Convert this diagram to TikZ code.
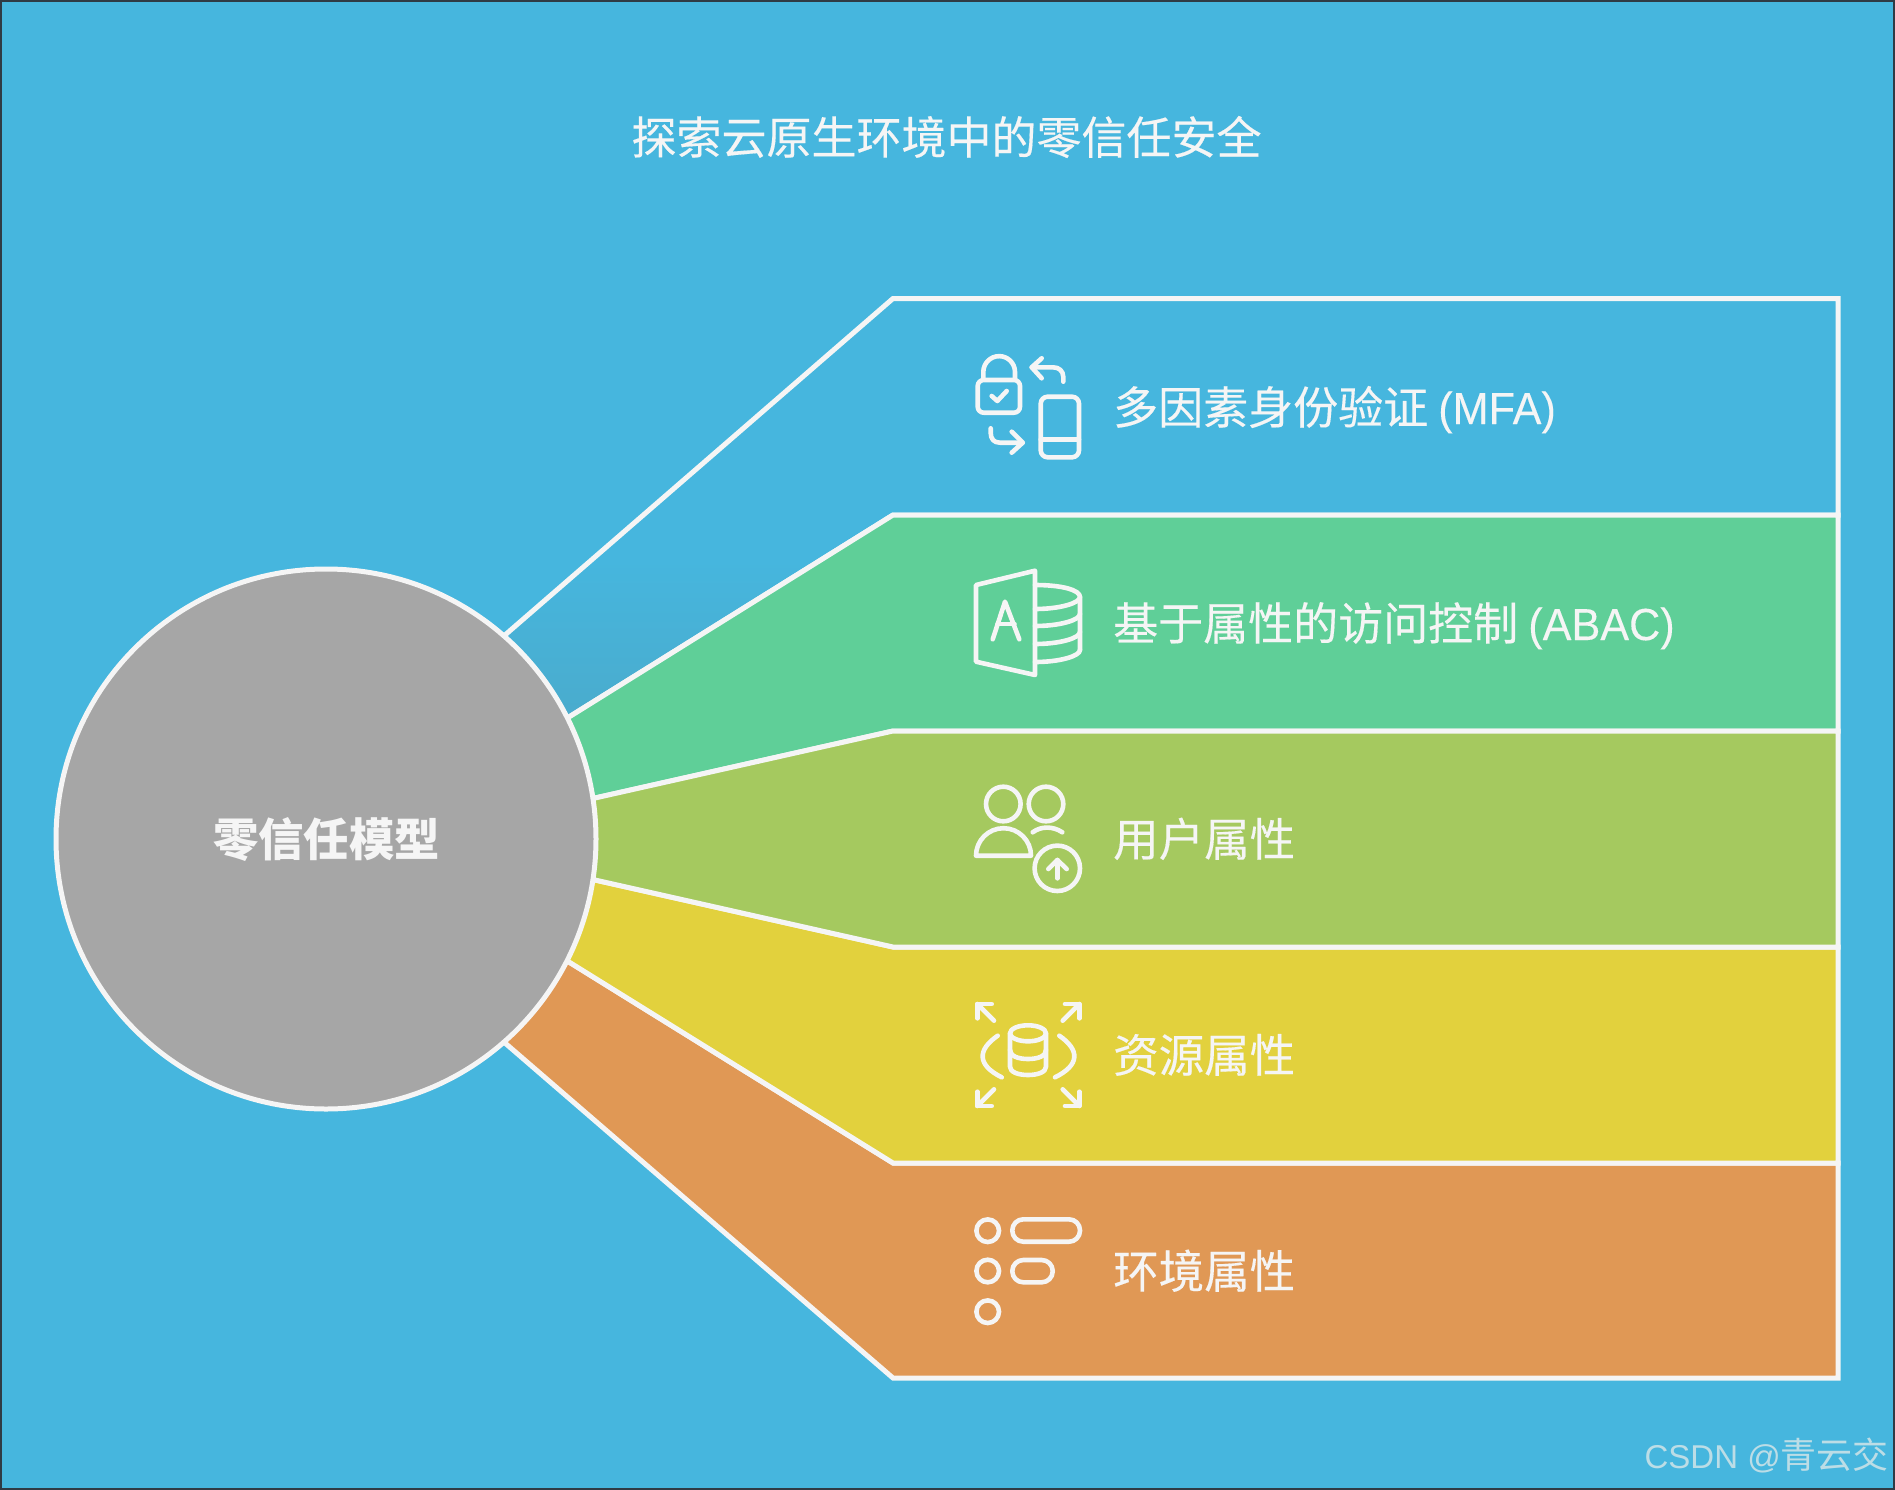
\documentclass[tikz,border=0pt]{standalone}
\usepackage{fontspec}
\setmainfont{Noto Sans CJK SC}
\newfontfamily\wmlat{Liberation Sans}
\newfontfamily\lblat[FakeStretch=0.96,FakeBold=0.2]{Liberation Sans}
\newfontfamily\cjkfont{Noto Sans CJK SC}
\newfontfamily\cjkheavy[FakeBold=0.3]{Noto Sans CJK SC}
\definecolor{bgblue}{HTML}{46B6DE}
\definecolor{bandblue}{HTML}{4AABCC}
\definecolor{bandgreen}{HTML}{5FCF98}
\definecolor{bandolive}{HTML}{A5C95F}
\definecolor{bandyellow}{HTML}{E2D13D}
\definecolor{bandorange}{HTML}{E09855}
\definecolor{hubgray}{HTML}{A6A6A6}
\definecolor{linewhite}{HTML}{F5F5F5}
\definecolor{frameink}{HTML}{2F3B45}
\definecolor{wmcolor}{HTML}{BCDDE6}
\tikzset{
  band/.style={draw=linewhite,line width=5pt,line join=miter},
  ico/.style={draw=linewhite,line width=4.6pt,line cap=round,line join=round},
  lbl/.style={anchor=west,text=linewhite,font=\cjkheavy\fontsize{45.5}{54}\selectfont,inner sep=0pt,text height=39.6pt,text depth=5.4pt},
  lblwide/.style={lbl,font=\cjkheavy\fontsize{45}{54}\selectfont},
}
\begin{document}
\begin{tikzpicture}[x=1pt,y=-1pt]
\useasboundingbox (0,0) rectangle (1895,1490);
\fill[bgblue] (0,0) rectangle (1895,1490);
\draw[frameink,line width=4pt] (0,0) rectangle (1895,1490);
\node[text=linewhite,font=\cjkheavy\fontsize{45}{54}\selectfont,inner sep=0pt] (title) at (946.5,137) {探索云原生环境中的零信任安全};
% bands
\begin{scope}
\clip (326,839) -- (505,635) -- (893,298.5) -- (1838,298.5) -- (1838,515) -- (893,515) -- (569,717) -- cycle;
\shade[top color=bgblue,bottom color=bandblue] (480,560) rectangle (900,725);
\end{scope}
\draw[band] (326,839) -- (505,635) -- (893,298.5) -- (1838,298.5) -- (1838,515) -- (893,515) -- (569,717) -- cycle;
\draw[band,fill=bandorange] (326,839) -- (505,1043) -- (893,1378) -- (1838,1378) -- (1838,1163) -- (893,1163) -- (569,962) -- cycle;
\draw[band,fill=bandgreen] (326,839) -- (569,717) -- (893,515) -- (1838,515) -- (1838,731) -- (893,731) -- (595,798) -- cycle;
\draw[band,fill=bandyellow] (326,839) -- (595,880) -- (893,947) -- (1838,947) -- (1838,1163) -- (893,1163) -- (569,962) -- cycle;
\draw[band,fill=bandolive] (326,839) -- (595,798) -- (893,731) -- (1838,731) -- (1838,947) -- (893,947) -- (595,880) -- cycle;
\node[circle,draw=linewhite,fill=hubgray,line width=5pt,minimum size=540pt,inner sep=0pt] (hub) at (326,839) {};
\node[text=linewhite,font=\fontsize{45.4}{54}\selectfont\bfseries,inner sep=0pt] (hubtext) at (326.5,840) {零信任模型};
% labels
\node[lblwide] (mfa) at (1113,407) {多因素身份验证 {\lblat (MFA)}};
\node[lblwide] (abac) at (1113,623) {基于属性的访问控制 {\lblat (ABAC)}};
\node[lbl] (user) at (1113,839) {用户属性};
\node[lbl] (res) at (1113,1055) {资源属性};
\node[lbl] (env) at (1113,1271) {环境属性};
% icon: lock and phone
\draw[ico,rounded corners=6pt] (977.7,380) rectangle (1020,412.7);
\draw[ico] (983.3,379) -- (983.3,372) arc[start angle=180,end angle=360,radius=15.85] -- (1015,379);
\draw[ico] (991.7,396) -- (997.3,401) -- (1006.7,391);
\draw[ico] (1063.3,381.7) -- (1063.3,377) .. controls (1063.3,371) and (1059,367.3) .. (1053,367.3) -- (1031.7,367.3);
\draw[ico] (1041.7,358.3) -- (1031.7,367.3) -- (1041.7,378.3);
\draw[ico,rounded corners=7pt] (1040.7,396.7) rectangle (1079,457.3);
\draw[ico] (1040.7,439.3) -- (1079,439.3);
\draw[ico] (990.7,428.3) -- (990.7,433) .. controls (990.7,439) and (994,442.7) .. (1000,442.7) -- (1022.7,442.7);
\draw[ico] (1011.7,431.7) -- (1022.7,442.7) -- (1011.7,452.7);
% icon: access database
\draw[ico] (976,585) -- (1035,570.7) -- (1035,675) -- (976,661.7) -- cycle;
\draw[ico] (992.7,639.3) -- (1005,601.7) -- (1019.3,639.3);
\draw[ico] (997.5,624) -- (1014.5,624);
\draw[ico] (1035,585) .. controls (1062,585) and (1080,590) .. (1080,597) -- (1080,650);
\draw[ico] (1080,597) .. controls (1080,603) and (1060,609) .. (1035,609);
\draw[ico] (1080,614) .. controls (1080,620) and (1060,626) .. (1035,626);
\draw[ico] (1080,632) .. controls (1080,638) and (1060,644) .. (1035,644);
\draw[ico] (1080,650) .. controls (1080,656) and (1060,662) .. (1035,662);
% icon: users with upload
\draw[ico] (1003.3,804) circle[radius=17.3];
\draw[ico] (1046,804) circle[radius=17.3];
\draw[ico] (976,855.7) arc[start angle=180,end angle=360,radius=27.5] -- cycle;
\draw[ico] (1032.7,832.3) .. controls (1041,826) and (1053,826) .. (1062.3,832.3);
\draw[ico] (1057.3,868.3) circle[radius=22.7];
\draw[ico] (1057.3,878.3) -- (1057.3,860);
\draw[ico] (1048.3,869) -- (1057.3,860) -- (1066.7,869);
% icon: resource database
\draw[ico] (991.7,1004) -- (977.3,1004) -- (977.3,1018.3);
\draw[ico] (977.3,1004) -- (994,1020.7);
\draw[ico] (1065,1004) -- (1079.3,1004) -- (1079.3,1018.3);
\draw[ico] (1079.3,1004) -- (1062.7,1020.7);
\draw[ico] (991.7,1106) -- (977.3,1106) -- (977.3,1091.7);
\draw[ico] (977.3,1106) -- (994,1089.3);
\draw[ico] (1065,1106) -- (1079.3,1106) -- (1079.3,1091.7);
\draw[ico] (1079.3,1106) -- (1062.7,1089.3);
\draw[ico] (1028,1033.3) ellipse[x radius=18,y radius=8];
\draw[ico] (1010,1033.3) -- (1010,1066.7) .. controls (1010,1072) and (1018,1075) .. (1028,1075) .. controls (1038,1075) and (1046,1072) .. (1046,1066.7) -- (1046,1033.3);
\draw[ico] (1010,1050) .. controls (1010,1056) and (1018,1059) .. (1028,1059) .. controls (1038,1059) and (1046,1056) .. (1046,1050);
\draw[ico] (997.7,1035.7) .. controls (977,1050) and (977,1065) .. (1001.7,1077.3);
\draw[ico] (1059.3,1035.7) .. controls (1080,1050) and (1080,1065) .. (1055,1077.3);
% icon: list
\draw[ico] (987.7,1230.7) circle[radius=11.3];
\draw[ico] (987.7,1271) circle[radius=11.3];
\draw[ico] (987.7,1311.7) circle[radius=11.3];
\draw[ico,rounded corners=11pt] (1012.3,1219.3) rectangle (1080,1241.7);
\draw[ico,rounded corners=11pt] (1012.3,1260) rectangle (1052.7,1282.3);
% watermark
\node[anchor=base east,text=wmcolor,inner sep=0pt] (mark) at (1889,1468) {{\wmlat\fontsize{33}{40}\selectfont CSDN @}{\cjkfont\fontsize{36}{40}\selectfont 青云交}};
\end{tikzpicture}
\end{document}
